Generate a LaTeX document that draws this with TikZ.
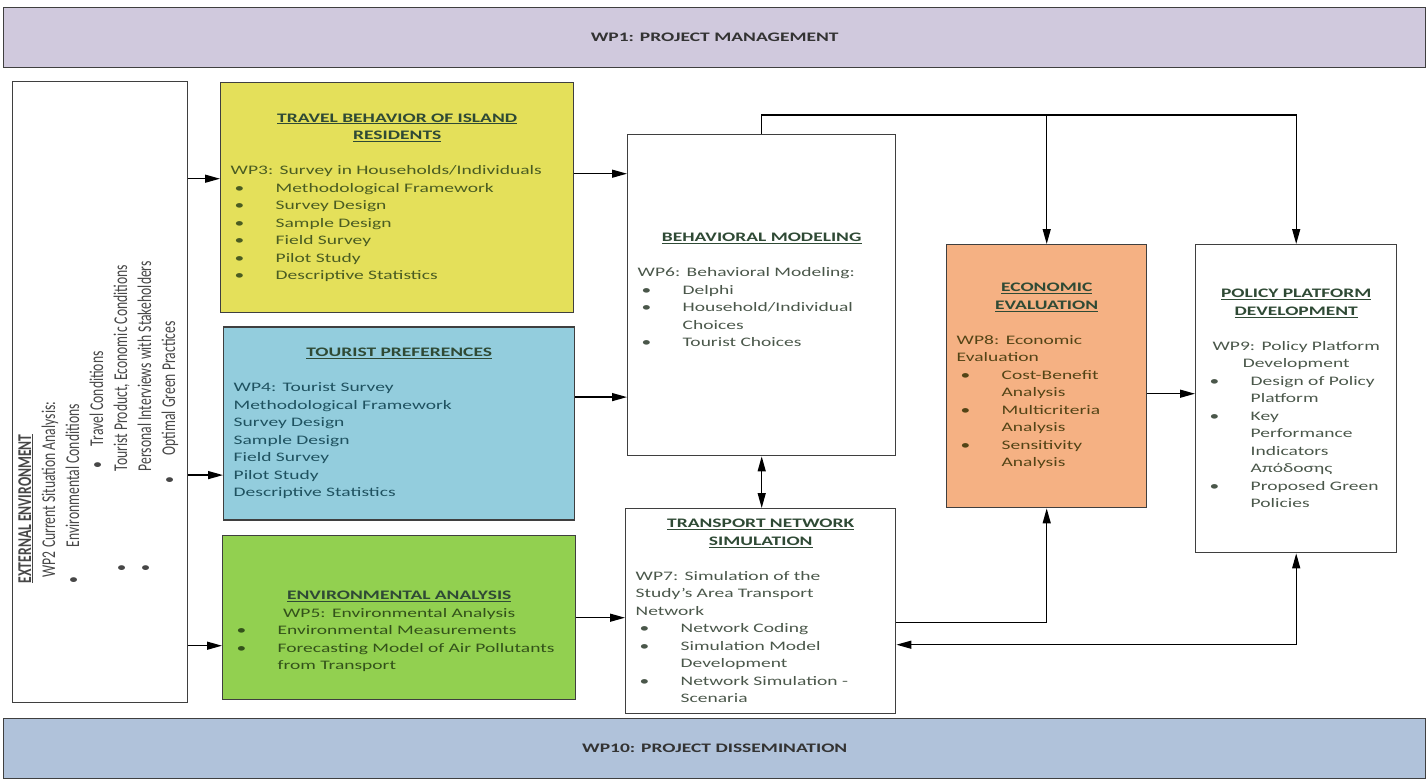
\documentclass[tikz,border=0pt]{standalone}
\usepackage{fontspec}
\setmainfont{Carlito}[FakeStretch=1.5]
\newfontfamily\vertfont{Carlito}[FakeStretch=0.7]
\usepackage{xcolor}
\usetikzlibrary{arrows.meta,positioning}

\definecolor{pmfill}{HTML}{D0C9DD}
\definecolor{dissfill}{HTML}{B0C2DA}
\definecolor{travfill}{HTML}{E4E05A}
\definecolor{tourfill}{HTML}{93CDDD}
\definecolor{envfill}{HTML}{92D050}
\definecolor{econfill}{HTML}{F5B183}
\definecolor{boxline}{HTML}{3F3F3F}
\definecolor{hdtext}{HTML}{2F4A35}
\definecolor{travtext}{HTML}{4A5C22}
\definecolor{tourtext}{HTML}{1F5260}
\definecolor{envtext}{HTML}{33521A}
\definecolor{greytext}{HTML}{4A574A}
\definecolor{econtext}{HTML}{534416}

\newcommand{\bodyfont}{\fontsize{13}{17.5}\selectfont}
\newcommand{\wphead}[1]{{\centering\bfseries\color{hdtext}#1\par}}
\newcommand{\itm}[1]{\hspace*{4pt}\makebox[41pt][l]{•}#1}
\newcommand{\cont}[1]{\hspace*{45pt}#1}

\begin{document}
\begin{tikzpicture}[x=1pt,y=-1pt,
    wpbox/.style={draw=boxline,line width=1.4pt,inner xsep=10pt,inner ysep=4pt,font=\bodyfont},
    bar/.style={draw=boxline,line width=1.4pt,minimum width=1422pt,minimum height=60pt,
      font=\bfseries\fontsize{13}{16}\selectfont,text=black!80},
    arr/.style={-{Triangle[length=15pt,width=8pt]},line width=1.3pt},
    dbl/.style={{Triangle[length=15pt,width=8pt]}-{Triangle[length=15pt,width=8pt]},line width=1.3pt}
  ]
  \useasboundingbox (0,0) rectangle (1428,779);

  % bars
  \node[bar,fill=pmfill,anchor=north west] (pm) at (3,7) {WP1: PROJECT MANAGEMENT};
  \node[bar,fill=dissfill,anchor=north west] (diss) at (3,718) {WP10: PROJECT DISSEMINATION};

  % external environment
  \node[wpbox,minimum width=175pt,minimum height=621pt,anchor=north west] (ext) at (12,81) {};
  \node[rotate=90,anchor=west,align=left,inner sep=0pt,text=black!72,
    font=\vertfont\fontsize{19.5}{24}\selectfont]
    (extlist) at ([xshift=-2pt,yshift=120pt]ext.south) {%
    \textbf{\underline{EXTERNAL ENVIRONMENT}}\\
    \hspace*{6pt}WP2 Current Situation Analysis:\\
    \makebox[36pt][l]{•}Environmental Conditions\\
    \hspace*{115pt}\makebox[22pt][l]{•}Travel Conditions\\
    \hspace*{12pt}\makebox[100pt][l]{•}Tourist Product, Economic Conditions\\
    \hspace*{12pt}\makebox[100pt][l]{•}Personal Interviews with Stakeholders\\
    \hspace*{100pt}\makebox[28pt][l]{•}Optimal Green Practices};

  % left column
  \node[wpbox,fill=travfill,text=travtext,text width=333pt,minimum width=353pt,minimum height=230pt,
    anchor=north west] (travel) at (220,82) {%
    \wphead{\underline{TRAVEL BEHAVIOR OF ISLAND}\\\underline{RESIDENTS}}\vspace{17.5pt}
    {\raggedright WP3: Survey in Households/Individuals\\
    \itm{Methodological Framework}\\
    \itm{Survey Design}\\
    \itm{Sample Design}\\
    \itm{Field Survey}\\
    \itm{Pilot Study}\\
    \itm{Descriptive Statistics}\par}};
  \node[wpbox,fill=tourfill,text=tourtext,text width=331pt,minimum width=351pt,minimum height=193pt,
    below=13pt of travel.south west,anchor=north west,xshift=3pt] (tourist) {%
    \wphead{\underline{TOURIST PREFERENCES}}\vspace{17.5pt}
    {\raggedright WP4: Tourist Survey\\
    Methodological Framework\\
    Survey Design\\
    Sample Design\\
    Field Survey\\
    Pilot Study\\
    Descriptive Statistics\par}};
  \node[wpbox,fill=envfill,text=envtext,text width=333pt,minimum width=353pt,minimum height=164pt,
    anchor=north west] (envir) at (222,535) {%
    \rule{0pt}{36pt}\wphead{\underline{ENVIRONMENTAL ANALYSIS}}
    {\centering WP5: Environmental Analysis\par}
    {\raggedright\itm{Environmental Measurements}\\
    \itm{Forecasting Model of Air Pollutants}\\
    \cont{from Transport}\par}};

  % middle column
  \node[wpbox,text=greytext,text width=248pt,minimum width=268pt,minimum height=321pt,
    anchor=north west] (behav) at (627,134) {%
    \wphead{\underline{BEHAVIORAL MODELING}}\vspace{17.5pt}
    {\raggedright WP6: Behavioral Modeling:\\
    \itm{Delphi}\\
    \itm{Household/Individual}\\
    \cont{Choices}\\
    \itm{Tourist Choices}\par}\vspace{10pt}};
  \node[wpbox,text=greytext,text width=250pt,minimum width=270pt,minimum height=205pt,
    anchor=north west] (transport) at (625,508) {%
    \wphead{\underline{TRANSPORT NETWORK}\\\underline{SIMULATION}}\vspace{17.5pt}
    {\raggedright WP7: Simulation of the\\
    Study’s Area Transport\\
    Network\\
    \itm{Network Coding}\\
    \itm{Simulation Model}\\
    \cont{Development}\\
    \itm{Network Simulation -}\\
    \cont{Scenaria}\par}};

  % right column
  \node[wpbox,fill=econfill,text=econtext,text width=180pt,minimum width=200pt,minimum height=263pt,
    anchor=north west] (econ) at (946,244) {%
    \wphead{\underline{ECONOMIC}\\\underline{EVALUATION}}\vspace{17.5pt}
    {\raggedright WP8: Economic\\
    Evaluation\\
    \itm{Cost-Benefit}\\
    \cont{Analysis}\\
    \itm{Multicriteria}\\
    \cont{Analysis}\\
    \itm{Sensitivity}\\
    \cont{Analysis}\par}};
  \node[wpbox,text=greytext,text width=181pt,minimum width=201pt,minimum height=308pt,
    anchor=north west] (policy) at (1195,244) {%
    \wphead{\underline{POLICY PLATFORM}\\\underline{DEVELOPMENT}}\vspace{17.5pt}
    {\centering WP9: Policy Platform\\Development\par}
    {\raggedright\itm{Design of Policy}\\
    \cont{Platform}\\
    \itm{Key}\\
    \cont{Performance}\\
    \cont{Indicators}\\
    \cont{Απόδοσης}\\
    \itm{Proposed Green}\\
    \cont{Policies}\par}};

  % connector ends
  \coordinate (inTravel) at ([yshift=19pt]travel.west);
  \coordinate (inTourist) at ([yshift=-51.5pt]tourist.west);
  \coordinate (inEnv) at ([yshift=-28pt]envir.west);
  \coordinate (outTravel) at ([yshift=24pt]travel.east);
  \coordinate (outTourist) at ([yshift=26.5pt]tourist.east);
  \coordinate (bus) at ([yshift=19pt]behav.north);
  \coordinate (outEcon) at ([yshift=-17.5pt]econ.east);
  \coordinate (outTrans) at ([yshift=-11.5pt]transport.east);
  \coordinate (backTrans) at ([yshift=-33.5pt]transport.east);

  \draw[arr] (inTravel -| ext.east) -- (inTravel);
  \draw[arr] (inTourist -| ext.east) -- (inTourist);
  \draw[arr] (inEnv -| ext.east) -- (inEnv);
  \draw[arr] (outTravel) -- (outTravel -| behav.west);
  \draw[arr] (outTourist) -- (outTourist -| behav.west);
  \draw[arr] (envir.east) -- (envir.east -| transport.west);
  \draw[dbl] (behav.south) -- (behav.south |- transport.north);
  \draw[arr] (behav.north) -- (bus) -| (policy.north);
  \draw[arr] (bus -| econ.north) -- (econ.north);
  \draw[arr] (outEcon) -- (outEcon -| policy.west);
  \draw[arr] (outTrans) -| (econ.south);
  \draw[dbl] (policy.south) |- (backTrans);
\end{tikzpicture}
\end{document}
